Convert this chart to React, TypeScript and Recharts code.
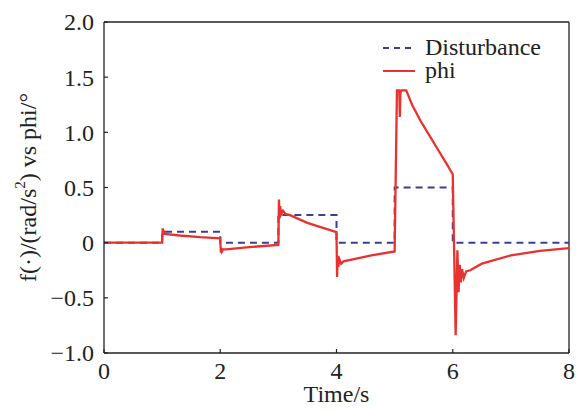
import { Line, LineChart, ReferenceLine, XAxis, YAxis } from 'recharts'

const disturbanceTime = [0, 1, 1, 2, 2, 3, 3, 4, 4, 5, 5, 6, 6, 8]
const disturbanceValue = [0, 0, 0.1, 0.1, 0, 0, 0.25, 0.25, 0, 0, 0.5, 0.5, 0, 0]

const phiTime = [
  0, 1.0, 1.01, 1.02, 1.03, 1.05, 1.3, 1.65, 2.0,
  2.01, 2.02, 2.03, 2.05, 2.1, 2.5, 3.0,
  3.01, 3.02, 3.03, 3.05, 3.08, 3.12, 3.2, 3.5, 3.7, 4.0,
  4.01, 4.02, 4.03, 4.05, 4.08, 4.12, 4.3, 4.6, 5.0,
  5.04, 5.08, 5.09, 5.1, 5.12, 5.2, 5.3, 5.45, 5.6, 5.75, 5.9, 6.0,
  6.05, 6.08, 6.1, 6.12, 6.14, 6.16, 6.19, 6.23, 6.3, 6.5, 7.0, 7.5, 8.0,
]
const phiValue = [
  0, 0, 0.13, 0.07, 0.11, 0.08, 0.065, 0.05, 0.04,
  -0.09, -0.05, -0.08, -0.06, -0.06, -0.04, -0.02,
  0.39, 0.22, 0.33, 0.26, 0.29, 0.26, 0.25, 0.18, 0.145, 0.095,
  -0.31, -0.12, -0.22, -0.15, -0.19, -0.17, -0.15, -0.115, -0.08,
  1.38, 1.38, 1.14, 1.36, 1.38, 1.38, 1.25, 1.1, 0.97, 0.84, 0.71, 0.62,
  -0.84, -0.07, -0.45, -0.2, -0.36, -0.24, -0.32, -0.26, -0.25, -0.19, -0.115, -0.075, -0.05,
]

const xTicks = [0, 2, 4, 6, 8]
const yTicks = [-1, -0.5, 0, 0.5, 1, 1.5, 2]

const disturbance = disturbanceTime.map((t, i) => ({ t, v: disturbanceValue[i] }))
const phi = phiTime.map((t, i) => ({ t, v: phiValue[i] }))

const FONT = 'Liberation Serif'
const FS = 24
const INK = '#222'
const RED = '#e8322f'
const NAVY = '#3a3f94'

function fmtY(v: number) {
  if (v === 0) return '0'
  return v.toFixed(1).replace('-', '\u2212')
}

function XTick(props: any) {
  const { x, y, payload } = props
  return (
    <g>
      <line x1={x} x2={x} y1={y - 9} y2={y - 13} stroke={INK} strokeWidth={1.2} />
      <text x={x} y={y} dy="0.71em" textAnchor="middle" style={{ fontFamily: FONT }} fontSize={FS} fill={INK}>
        {payload.value}
      </text>
    </g>
  )
}

function YTick(props: any) {
  const { x, y, payload } = props
  return (
    <g>
      <line x1={x + 10} x2={x + 14} y1={y} y2={y} stroke={INK} strokeWidth={1.2} />
      <text x={x} y={y} dy="0.35em" textAnchor="end" style={{ fontFamily: FONT }} fontSize={FS} fill={INK}>
        {fmtY(payload.value)}
      </text>
    </g>
  )
}

function LegendBox() {
  const items = [
    { name: 'Disturbance', color: NAVY, dash: '6 5' },
    { name: 'phi', color: RED, dash: undefined },
  ]
  return (
    <div
      style={{
        position: 'absolute',
        left: 383,
        top: 36,
        fontFamily: FONT,
        fontSize: FS,
        color: INK,
        lineHeight: '23px',
      }}
    >
      {items.map((it) => (
        <div key={it.name} style={{ display: 'flex', alignItems: 'center', height: 23 }}>
          <svg width={42} height={23}>
            <line x1={0} x2={32} y1={12} y2={12} stroke={it.color} strokeWidth={2} strokeDasharray={it.dash} />
          </svg>
          <span>{it.name}</span>
        </div>
      ))}
    </div>
  )
}

export default function App() {
  return (
    <div style={{ position: 'absolute', left: 0, top: 0, width: 579, height: 409, background: '#fff' }}>
      <LineChart width={579} height={409} margin={{ top: 22, right: 10, bottom: 26, left: 0 }}>
        <XAxis
          dataKey="t"
          type="number"
          domain={[0, 8]}
          ticks={xTicks}
          height={30}
          tickSize={0}
          tickMargin={9}
          tickLine={false}
          axisLine={{ stroke: INK, strokeWidth: 1.3 }}
          tick={(p: any) => <XTick {...p} />}
          allowDuplicatedCategory={false}
          label={{
            content: (p: any) => {
              const vb = p.viewBox
              return (
                <text x={vb.x + vb.width / 2} y={402} textAnchor="middle" style={{ fontFamily: FONT }} fontSize={FS} fill={INK}>
                  Time/s
                </text>
              )
            },
          }}
        />
        <YAxis
          type="number"
          domain={[-1, 2]}
          ticks={yTicks}
          width={104}
          tickSize={0}
          tickMargin={10}
          tickLine={false}
          axisLine={{ stroke: INK, strokeWidth: 1.3 }}
          tick={(p: any) => <YTick {...p} />}
          label={{
            content: (p: any) => {
              const vb = p.viewBox
              const cy = vb.y + vb.height / 2
              return (
                <text
                  x={28}
                  y={cy}
                  transform={`rotate(-90, 28, ${cy})`}
                  textAnchor="middle"
                  dominantBaseline="central"
                  style={{ fontFamily: FONT }}
                  fontSize={FS}
                  fill={INK}
                >
                  f(·)/(rad/s<tspan dy={-8} fontSize={15}>2</tspan><tspan dy={8}>) vs phi/°</tspan>
                </text>
              )
            },
          }}
        />
        <ReferenceLine y={2} stroke={INK} strokeWidth={1.3} />
        <ReferenceLine x={8} stroke={INK} strokeWidth={1.3} />
        <Line
          data={disturbance}
          dataKey="v"
          name="Disturbance"
          type="linear"
          stroke={NAVY}
          strokeWidth={2}
          strokeDasharray="7 5"
          dot={false}
          isAnimationActive={false}
        />
        <Line
          data={phi}
          dataKey="v"
          name="phi"
          type="linear"
          stroke={RED}
          strokeWidth={2.3}
          dot={false}
          isAnimationActive={false}
        />
      </LineChart>
      <LegendBox />
    </div>
  )
}
